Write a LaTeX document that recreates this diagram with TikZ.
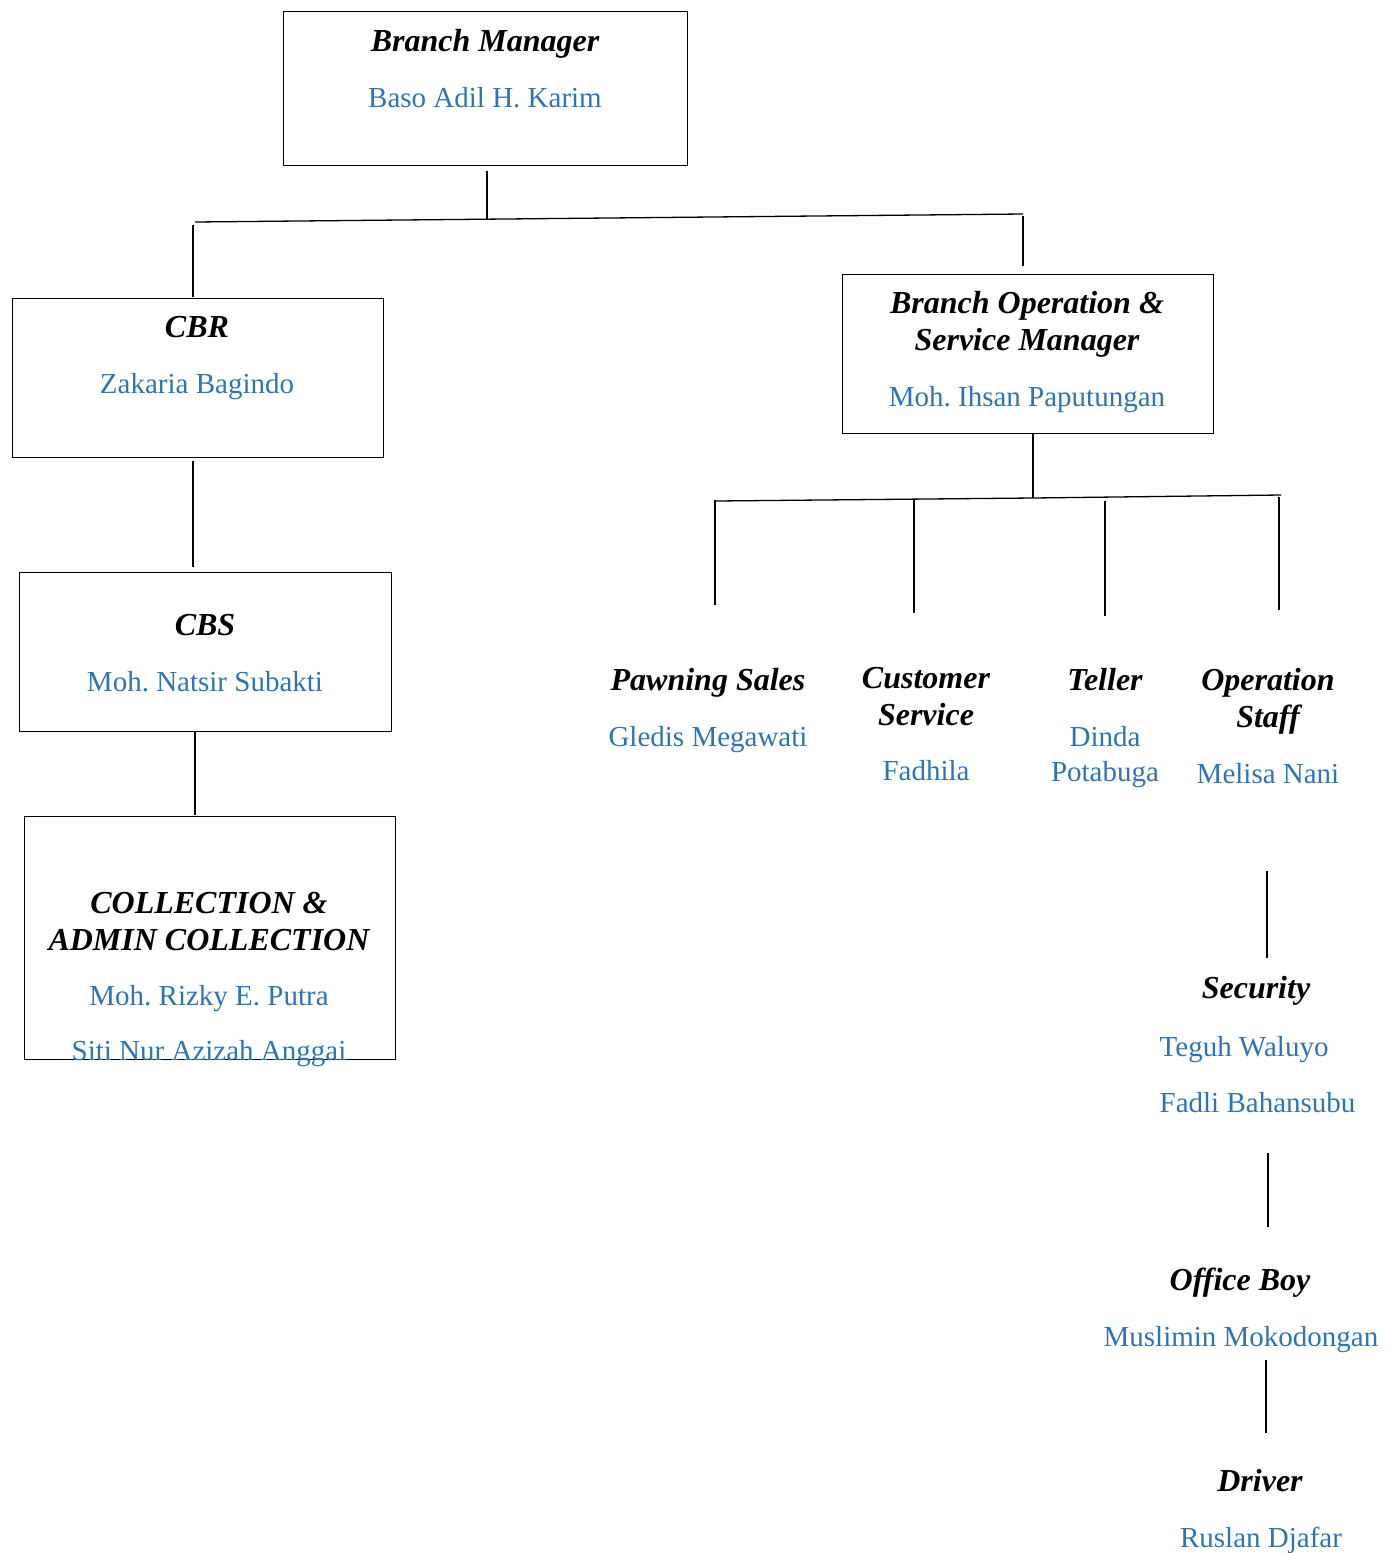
\documentclass[tikz,border=0pt]{standalone}
\usepackage{fontspec}
\setmainfont{Liberation Serif}
\usepackage{tikz}
\usetikzlibrary{positioning}
\definecolor{namecol}{RGB}{46,116,181}
\frenchspacing

\begin{document}
\begin{tikzpicture}[x=1pt,y=-1pt,line width=1.3pt,
  box/.style={draw,rectangle,inner sep=0,anchor=north west},
  role/.style={font=\fontsize{32}{37}\selectfont\bfseries\itshape,align=center,anchor=base,inner sep=0},
  person/.style={text=namecol,font=\fontsize{29}{35}\selectfont,align=center,anchor=base,inner sep=0}]
\useasboundingbox (0,0) rectangle (1393,1553);

% boxes
\node[box,minimum width=404pt,minimum height=154pt] (bm) at (283,11) {};
\node[box,minimum width=371pt,minimum height=159pt] (cbr) at (12,298) {};
\node[box,minimum width=372pt,minimum height=159pt] (cbs) at (19,572) {};
\node[box,minimum width=371pt,minimum height=243pt] (coll) at (24,816) {};
\node[box,minimum width=371pt,minimum height=159pt] (bosm) at (842,274) {};

% texts in the boxes
\node[role] (bm-t) at (485,51) {Branch Manager};
\node[person] (bm-n) at (485,107) {Baso Adil H. Karim};
\node[role] (cbr-t) at (197,337) {CBR};
\node[person] (cbr-n) at (197,393) {Zakaria Bagindo};
\node[role] (cbs-t) at (205,635) {CBS};
\node[person] (cbs-n) at (205,691) {Moh. Natsir Subakti};
\node[role] (coll-t) at (209,950) {COLLECTION \&\\ADMIN COLLECTION};
\node[person] (coll-n1) at (209,1005) {Moh. Rizky E. Putra};
\node[person] (coll-n2) at (209,1060) {Siti Nur Azizah Anggai};
\node[role] (bosm-t) at (1027,350) {Branch Operation \&\\Service Manager};
\node[person] (bosm-n) at (1027,406) {Moh. Ihsan Paputungan};

% staff without boxes
\node[role] (ps-t) at (708,690) {Pawning Sales};
\node[person] (ps-n) at (708,746) {Gledis Megawati};
\node[role] (cs-t) at (926,725) {Customer\\Service};
\node[person] (cs-n) at (926,780) {Fadhila};
\node[role] (tl-t) at (1105,690) {Teller};
\node[person] (tl-n) at (1105,781) {Dinda\\Potabuga};
\node[role] (os-t) at (1268,727) {Operation\\Staff};
\node[person] (os-n) at (1268,783) {Melisa Nani};
\node[role] (sec-t) at (1256,998) {Security};
\node[person,anchor=base west] (sec-n1) at (1159,1056) {Teguh Waluyo};
\node[person,anchor=base west] (sec-n2) at (1159,1112) {Fadli Bahansubu};
\node[role] (ob-t) at (1240,1290) {Office Boy};
\node[person] (ob-n) at (1241,1346) {Muslimin Mokodongan};
\node[role] (dr-t) at (1260,1491) {Driver};
\node[person] (dr-n) at (1261,1547) {Ruslan Djafar};

% line ends
\coordinate (bm-d) at (487,171);
\coordinate (bm-j) at (487,219);
\coordinate (top-l) at (195,222);
\coordinate (top-r) at (1023,214);
\coordinate (cbr-u) at (193,225);
\coordinate (cbr-a) at (193,297);
\coordinate (bosm-u) at (1023,216);
\coordinate (bosm-a) at (1023,266);
\coordinate (cbr-d) at (193,461);
\coordinate (cbs-a) at (193,567);
\coordinate (cbs-d) at (195,731);
\coordinate (coll-a) at (195,815);
\coordinate (bosm-d) at (1033,433);
\coordinate (bosm-j) at (1033,498);
\coordinate (mid-l) at (716,501);
\coordinate (mid-r) at (1281,495);
\coordinate (ps-u) at (715,500);
\coordinate (ps-a) at (715,605);
\coordinate (cs-u) at (914,500);
\coordinate (cs-a) at (914,613);
\coordinate (tl-u) at (1105,501);
\coordinate (tl-a) at (1105,616);
\coordinate (os-u) at (1279,497);
\coordinate (os-a) at (1279,610);
\coordinate (os-d) at (1267,871);
\coordinate (sec-a) at (1267,958);
\coordinate (sec-d) at (1268,1153);
\coordinate (ob-a) at (1268,1227);
\coordinate (ob-d) at (1266,1360);
\coordinate (dr-a) at (1266,1433);

% connectors
\draw (bm-d) -- (bm-j);
\draw (top-l) -- (top-r);
\draw (cbr-u) -- (cbr-a);
\draw (bosm-u) -- (bosm-a);
\draw (cbr-d) -- (cbs-a);
\draw (cbs-d) -- (coll-a);
\draw (bosm-d) -- (bosm-j);
\draw (mid-l) -- (bosm-j) -- (mid-r);
\draw (ps-u) -- (ps-a);
\draw (cs-u) -- (cs-a);
\draw (tl-u) -- (tl-a);
\draw (os-u) -- (os-a);
\draw (os-d) -- (sec-a);
\draw (sec-d) -- (ob-a);
\draw (ob-d) -- (dr-a);
\end{tikzpicture}
\end{document}
